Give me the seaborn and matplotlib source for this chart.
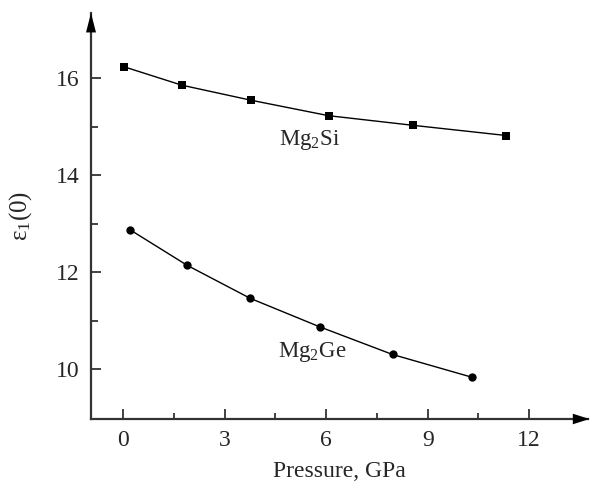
import matplotlib
matplotlib.use("Agg")
import matplotlib.pyplot as plt
import seaborn as sns
import pandas as pd

# Data
p_si = [0.02, 1.73, 3.77, 6.07, 8.58, 11.33]
eps_si = [16.24, 15.86, 15.55, 15.23, 15.03, 14.82]
p_ge = [0.21, 1.89, 3.75, 5.81, 7.96, 10.31]
eps_ge = [12.87, 12.14, 11.46, 10.87, 10.30, 9.83]
x_ticks = [0, 3, 6, 9, 12]
x_minor = [1.5, 4.5, 7.5, 10.5]
y_ticks = [10, 12, 14, 16]
y_minor = [11, 13, 15]

df = pd.concat([
    pd.DataFrame({"P": p_si, "eps": eps_si, "mat": "Mg2Si"}),
    pd.DataFrame({"P": p_ge, "eps": eps_ge, "mat": "Mg2Ge"}),
])

sns.set_style("white")
plt.rcParams["font.family"] = ["Liberation Serif", "DejaVu Serif"]
plt.rcParams["mathtext.fontset"] = "custom"
plt.rcParams["mathtext.rm"] = "Liberation Serif"
plt.rcParams["mathtext.it"] = "Liberation Serif:italic"

fig = plt.figure(figsize=(5.9, 4.86), dpi=100)
ax = fig.add_axes([91 / 590, 67 / 486, 497 / 590, 406 / 486])

sns.lineplot(data=df, x="P", y="eps", hue="mat", style="mat",
             markers={"Mg2Si": "s", "Mg2Ge": "o"}, dashes=False,
             palette={"Mg2Si": "black", "Mg2Ge": "black"},
             markersize=6, linewidth=1, markeredgewidth=0,
             legend=False, ax=ax, sort=False)

ax.set_xlim(-0.955, 13.74)
ax.set_ylim(8.968, 17.35)

ax.set_xticks(x_ticks)
ax.set_xticks(x_minor, minor=True)
ax.set_yticks(y_ticks)
ax.set_yticks(y_minor, minor=True)
ax.tick_params(axis="both", which="major", direction="in", length=7.5, width=1.3,
               color="#333333", labelsize=17, pad=8)
ax.tick_params(axis="both", which="minor", direction="in", length=5, width=1.3,
               color="#333333")
ax.tick_params(axis="x", which="minor", length=4.5)
ax.tick_params(axis="x", which="both", bottom=True)
ax.tick_params(axis="y", which="both", left=True)

for s in ["top", "right"]:
    ax.spines[s].set_visible(False)
for s in ["left", "bottom"]:
    ax.spines[s].set_color("#333333")
    ax.spines[s].set_linewidth(1.6)

# arrow heads at the axis ends
ax.annotate("", xy=(1.003, 0), xytext=(0.95, 0), xycoords="axes fraction",
            arrowprops=dict(arrowstyle="-|>,head_length=1.2,head_width=0.38",
                            color="black", lw=0, shrinkA=0, shrinkB=0),
            annotation_clip=False)
ax.annotate("", xy=(0, 1.0), xytext=(0, 0.94), xycoords="axes fraction",
            arrowprops=dict(arrowstyle="-|>,head_length=1.4,head_width=0.36",
                            color="black", lw=0, shrinkA=0, shrinkB=0),
            annotation_clip=False)

ax.set_xlabel("Pressure, GPa", fontsize=17, labelpad=7)
ax.set_ylabel(r"$\mathrm{\varepsilon_1(0)}$", fontsize=18, labelpad=16)

ax.text(5.52, 14.72, r"Mg$_2$Si", fontsize=16.5, ha="center", va="center")
ax.text(5.58, 10.36, r"Mg$_2$Ge", fontsize=16.5, ha="center", va="center")

fig.savefig("out.png", dpi=100)
